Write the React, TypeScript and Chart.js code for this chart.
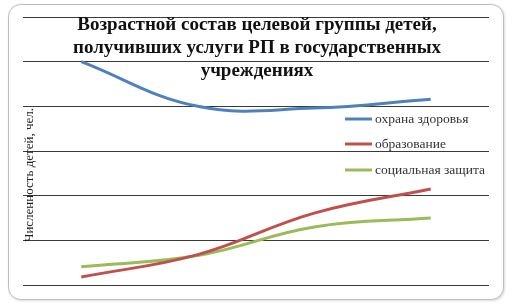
import React, { useEffect, useRef } from "react";
import { Chart, registerables } from "chart.js";

Chart.register(...registerables);

const categories = ["1", "2", "3", "4"];
const seriesNames = ["охрана здоровья", "образование", "социальная защита"];
const healthValues = [500, 400, 396, 416];
const educationValues = [18, 68, 161, 215];
const socialValues = [41, 66, 130, 150];
const titleLines = [
  "Возрастной состав целевой группы детей,",
  "получивших услуги РП в государственных",
  "учреждениях",
];
const yAxisTitle = "Численность детей, чел.";

const colors = ["#4F81BD", "#C0504D", "#9BBB59"];

const framePlugin = {
  id: "frame",
  beforeDraw(chart: any) {
    const ctx = chart.ctx;
    ctx.save();
    ctx.fillStyle = "#ffffff";
    ctx.fillRect(0, 0, chart.width, chart.height);
    const x = 8.5, y = 4.5, w = 495, h = 295, r = 12;
    ctx.shadowColor = "rgba(0,0,0,0.18)";
    ctx.shadowBlur = 3;
    ctx.shadowOffsetX = 1;
    ctx.shadowOffsetY = 1;
    ctx.beginPath();
    ctx.moveTo(x + r, y);
    ctx.lineTo(x + w - r, y);
    ctx.arcTo(x + w, y, x + w, y + r, r);
    ctx.lineTo(x + w, y + h - r);
    ctx.arcTo(x + w, y + h, x + w - r, y + h, r);
    ctx.lineTo(x + r, y + h);
    ctx.arcTo(x, y + h, x, y + h - r, r);
    ctx.lineTo(x, y + r);
    ctx.arcTo(x, y, x + r, y, r);
    ctx.closePath();
    ctx.fillStyle = "#ffffff";
    ctx.fill();
    ctx.shadowColor = "transparent";
    ctx.strokeStyle = "#bdbdbd";
    ctx.lineWidth = 1;
    ctx.stroke();
    ctx.restore();
  },
  afterDraw(chart: any) {
    const ctx = chart.ctx;
    ctx.save();
    ctx.fillStyle = "#111111";
    ctx.font = "bold 19px 'Liberation Serif', 'Times New Roman', serif";
    ctx.textAlign = "center";
    ctx.textBaseline = "middle";
    titleLines.forEach((line, i) => {
      ctx.fillText(line, 257, 25 + i * 23);
    });
    ctx.save();
    ctx.translate(30, 175);
    ctx.rotate(-Math.PI / 2);
    ctx.font = "13px 'Liberation Serif', 'Times New Roman', serif";
    ctx.fillStyle = "#222222";
    ctx.fillText(yAxisTitle, 0, 0);
    ctx.restore();
    const rows = [119, 144, 170];
    chart.data.datasets.forEach((ds: any, i: number) => {
      const yy = rows[i];
      ctx.strokeStyle = ds.borderColor;
      ctx.lineWidth = 3;
      ctx.beginPath();
      ctx.moveTo(345, yy);
      ctx.lineTo(372, yy);
      ctx.stroke();
      ctx.fillStyle = "#333333";
      ctx.font = "13.5px 'Liberation Serif', 'Times New Roman', serif";
      ctx.textAlign = "left";
      ctx.textBaseline = "middle";
      ctx.fillText(ds.label, 375, yy);
    });
    ctx.restore();
  },
};

export default function App() {
  const ref = useRef<HTMLCanvasElement | null>(null);
  useEffect(() => {
    if (!ref.current) return;
    const chart = new Chart(ref.current, {
      type: "line",
      data: {
        labels: categories,
        datasets: [healthValues, educationValues, socialValues].map((vals, i) => ({
          label: seriesNames[i],
          data: vals,
          borderColor: colors[i],
          backgroundColor: colors[i],
          borderWidth: 3,
          pointRadius: 0,
          tension: 0.4,
          fill: false,
        })),
      },
      options: {
        animation: false,
        responsive: false,
        devicePixelRatio: 1,
        layout: { padding: { left: 23, right: 23, top: 17, bottom: 19 } },
        plugins: {
          legend: { display: false },
          title: { display: false },
          tooltip: { enabled: false },
        },
        scales: {
          x: {
            offset: true,
            display: true,
            grid: { display: false, drawTicks: false },
            border: { display: false },
            ticks: { display: false },
          },
          y: {
            min: 0,
            max: 600,
            grid: { color: "#3a3a3a", lineWidth: 1, drawTicks: false },
            border: { display: false },
            ticks: { display: false, stepSize: 100 },
          },
        },
      },
      plugins: [framePlugin],
    });
    return () => chart.destroy();
  }, []);
  return (
    <div style={{ position: "fixed", left: 0, top: 0, width: 512, height: 304 }}>
      <canvas ref={ref} width={512} height={304} style={{ display: "block", width: 512, height: 304 }} />
    </div>
  );
}
